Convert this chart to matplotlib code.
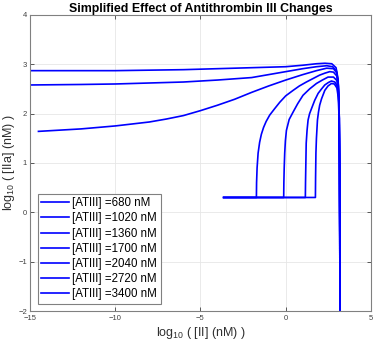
import numpy as np
import matplotlib
matplotlib.use('Agg')
import matplotlib.pyplot as plt

plt.rcParams['font.family'] = ['Liberation Sans', 'DejaVu Sans']
plt.rcParams['mathtext.fontset'] = 'custom'
plt.rcParams['mathtext.rm'] = 'Liberation Sans'

# [ATIII] levels (nM)
atiii = [680, 1020, 1360, 1700, 2040, 2720, 3400]

# log10([II]) and log10([IIa]), one pair per curve
x680 = [-15, -12, -10, -8, -6, -4, -2, -1, 0, 1, 1.8, 2.3, 2.7, 2.95, 3.07, 3.12, 3.15, 3.17, 3.18]
y680 = [2.87, 2.87, 2.87, 2.88, 2.89, 2.91, 2.93, 2.94, 2.95, 2.98, 3.01, 3.02, 3.01, 2.93, 2.7, 2.2, 1.0, -0.5, -2.5]

x1020 = [-15, -12, -10, -8, -6, -4, -2, -1, 0, 1, 1.8, 2.4, 2.75, 2.98, 3.08, 3.13, 3.15, 3.17, 3.18]
y1020 = [2.58, 2.59, 2.60, 2.62, 2.64, 2.68, 2.73, 2.79, 2.85, 2.91, 2.95, 2.97, 2.95, 2.86, 2.6, 2.1, 1.0, -0.5, -2.5]

x1360 = [-14.5, -13, -12, -11, -10, -9, -8, -7, -6, -5, -4, -3, -2, -1, 0, 1, 1.8, 2.4, 2.8,
         3.0, 3.09, 3.13, 3.15, 3.17, 3.18]
y1360 = [1.64, 1.67, 1.69, 1.72, 1.75, 1.79, 1.83, 1.89, 1.96, 2.06, 2.17, 2.29, 2.43, 2.56, 2.68, 2.79, 2.87, 2.92, 2.91,
         2.82, 2.55, 2.0, 1.0, -0.5, -2.5]

x1700 = [-3.64, -1.72, -1.71, -1.68, -1.62, -1.53, -1.43, -1.3, -1.15, -0.94, -0.65, -0.35, 0.0, 0.43, 0.8, 1.21, 1.6,
         1.99, 2.3, 2.58, 2.8, 3.0, 3.1, 3.14, 3.16, 3.17, 3.18]
y1700 = [0.301, 0.301, 0.6, 0.9, 1.2, 1.42, 1.58, 1.72, 1.84, 1.97, 2.1, 2.23, 2.36, 2.47, 2.56, 2.64, 2.71,
         2.78, 2.82, 2.85, 2.84, 2.76, 2.45, 1.9, 1.0, -0.5, -2.5]

x2040 = [-3.64, -0.12, -0.11, -0.09, -0.06, -0.02, 0.04, 0.2, 0.43, 0.7, 1.01, 1.4, 1.8, 2.15, 2.48, 2.8,
         3.0, 3.1, 3.14, 3.16, 3.17, 3.18]
y2040 = [0.301, 0.301, 0.6, 0.9, 1.2, 1.45, 1.66, 1.88, 2.03, 2.2, 2.37, 2.5, 2.61, 2.68, 2.74, 2.74,
         2.67, 2.4, 1.9, 1.0, -0.5, -2.5]

x2720 = [-3.64, 1.15, 1.16, 1.18, 1.2, 1.25, 1.31, 1.4, 1.51, 1.7, 1.9, 2.1, 2.29, 2.5, 2.68, 2.88,
         3.02, 3.1, 3.14, 3.16, 3.17, 3.18]
y2720 = [0.301, 0.301, 0.6, 1.0, 1.4, 1.66, 1.87, 2.0, 2.1, 2.27, 2.41, 2.5, 2.58, 2.63, 2.66, 2.64,
         2.56, 2.35, 1.9, 1.0, -0.5, -2.5]

x3400 = [-3.64, 1.74, 1.75, 1.77, 1.8, 1.86, 1.92, 1.99, 2.1, 2.29, 2.48, 2.68, 2.85, 3.0, 3.08, 3.13,
         3.16, 3.17, 3.18]
y3400 = [0.301, 0.301, 0.7, 1.2, 1.5, 1.87, 2.03, 2.17, 2.3, 2.47, 2.56, 2.61, 2.6, 2.52, 2.33, 1.9,
         1.0, -0.5, -2.5]

xs = [x680, x1020, x1360, x1700, x2040, x2720, x3400]
ys = [y680, y1020, y1360, y1700, y2040, y2720, y3400]

fig = plt.figure(figsize=(3.74, 3.46), dpi=100)
ax = fig.add_axes([0.080, 0.101, 0.912, 0.856])

for a, x, y in zip(atiii, xs, ys):
    ax.plot(x, y, color='#0000ff', lw=1.2, label='[ATIII] =%d nM' % a)

ax.set_xlim(-15, 5)
ax.set_ylim(-2, 4)
ax.set_xticks([-15, -10, -5, 0, 5])
ax.set_yticks([-2, -1, 0, 1, 2, 3, 4])
ax.grid(True, color='#e6e6e6', lw=0.6)
ax.set_axisbelow(True)
ax.tick_params(direction='in', length=3, width=0.6, labelsize=5.5,
               colors='#404040', top=True, right=True, pad=2)
ax.tick_params(axis='x', pad=3)
for s in ax.spines.values():
    s.set_color('#808080')
    s.set_linewidth(0.8)

ax.set_title('Simplified Effect of Antithrombin III Changes', fontsize=8.9,
             fontweight='bold', pad=2)
ax.set_xlabel(r'log$_{10}$ ( [II] (nM) )', fontsize=9, color='#303030', labelpad=2)
ax.set_ylabel(r'log$_{10}$ ( [IIa] (nM) )', fontsize=9, color='#303030', labelpad=1)

leg = ax.legend(loc='lower left', bbox_to_anchor=(0.023, 0.024), borderaxespad=0,
                fontsize=8.3, fancybox=False, framealpha=1, edgecolor='#808080',
                handlelength=2.4, handletextpad=0.3, labelspacing=0.28,
                borderpad=0.3)
leg.get_frame().set_linewidth(0.8)

fig.savefig('out.png', dpi=100)
